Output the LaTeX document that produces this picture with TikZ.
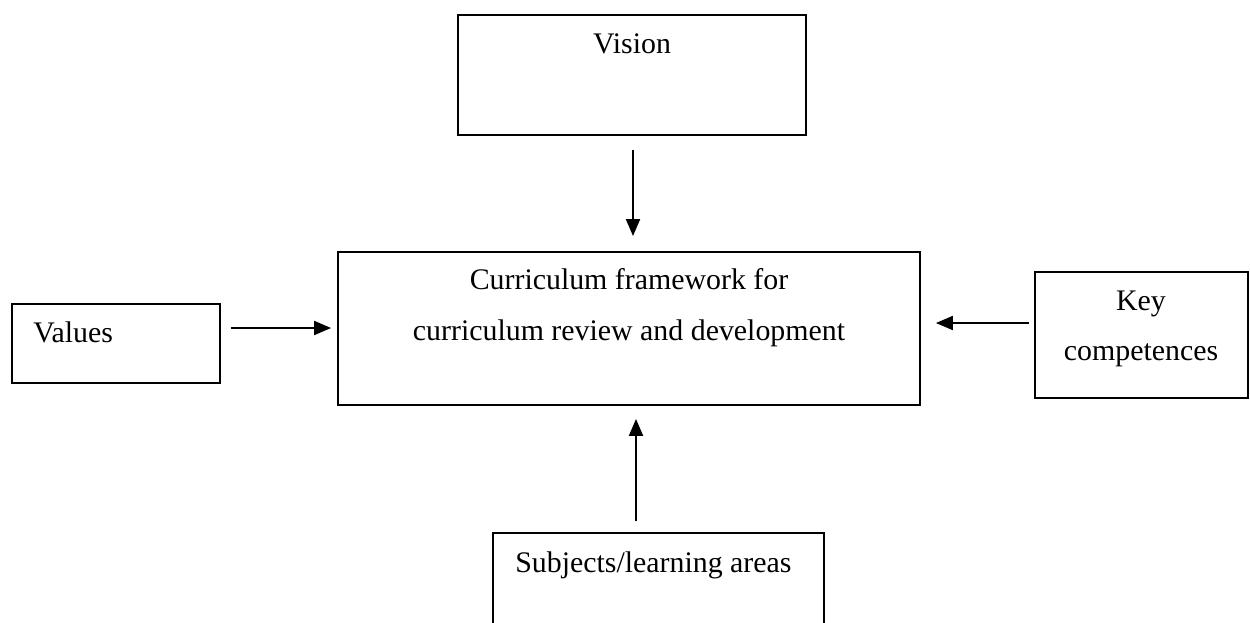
\documentclass[tikz,border=0pt]{standalone}
\usepackage{fontspec}
\setmainfont{Liberation Serif}
\usetikzlibrary{arrows.meta}

\tikzset{
	box/.style={draw,rectangle,line width=1.1pt,inner sep=0pt},
	lbl/.style={inner sep=0pt,font=\fontsize{17}{20}\selectfont},
	arr/.style={line width=1.1pt,-{Triangle[length=0.34cm,width=0.28cm]}}
}

\begin{document}
\begin{tikzpicture}[x=0.02cm,y=-0.02cm]
	%frame
	\useasboundingbox (0,0) rectangle (1250,622);
	\clip (0,0) rectangle (1250,622);

	%boxes
	\node[box,minimum width=6.96cm,minimum height=2.4cm] (vision) at (632,75) {};
	\node[box,minimum width=11.64cm,minimum height=3.06cm] (frame) at (629,328.5) {};
	\node[box,minimum width=4.16cm,minimum height=1.58cm] (values) at (116,343.5) {};
	\node[box,minimum width=4.26cm,minimum height=2.52cm] (key) at (1141.5,335) {};
	\node[box,minimum width=6.62cm,minimum height=2.54cm] (subjects) at (658.5,596.5) {};

	%labels
	\node[lbl,anchor=base] (visiontext) at (632,53) {Vision};
	\node[lbl,anchor=base] (frametextA) at (629,289) {Curriculum framework for};
	\node[lbl,anchor=base] (frametextB) at (629,340) {curriculum review and development};
	\node[lbl,anchor=base west] (valuestext) at (33,342) {Values};
	\node[lbl,anchor=base] (keytextA) at (1141,310) {Key};
	\node[lbl,anchor=base] (keytextB) at (1141,360) {competences};
	\node[lbl,anchor=base west] (subjectstext) at (515,572) {Subjects/learning areas};

	%arrows
	\draw[arr,shorten <=14*0.02cm,shorten >=15*0.02cm] ([xshift=0.02cm]vision.south) -- ([xshift=0.02cm]vision.south |- frame.north); %vision
	\draw[arr,shorten <=10*0.02cm,shorten >=6*0.02cm] ([yshift=0.01cm]values.east |- frame.west) -- ([yshift=0.01cm]frame.west); %values
	\draw[arr,shorten <=5*0.02cm,shorten >=15*0.02cm] ([yshift=0.24cm]key.west) -- ([yshift=0.24cm]key.west -| frame.east); %key
	\draw[arr,shorten <=11*0.02cm,shorten >=13*0.02cm] ([xshift=-0.45cm]subjects.north) -- ([xshift=-0.45cm]subjects.north |- frame.south); %subjects
\end{tikzpicture}
\end{document}
